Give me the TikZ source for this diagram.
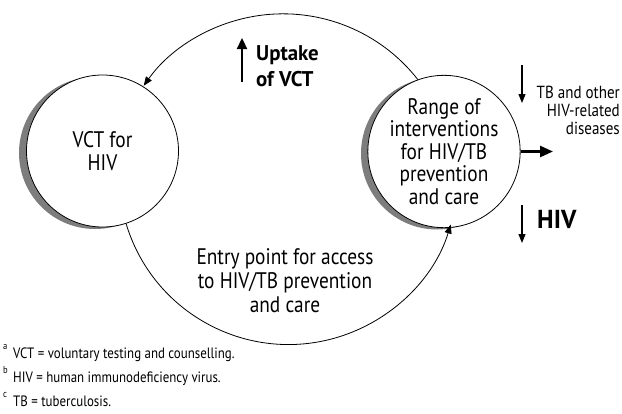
\documentclass[tikz,border=0pt]{standalone}
\usepackage{fontspec}
\setmainfont{PT Sans}[FakeStretch=0.86]
\newfontfamily\boldsans{PT Sans}[FakeStretch=0.98]
\usetikzlibrary{arrows.meta}
\definecolor{shadowgray}{RGB}{125,125,125}
\newcommand{\circfont}{\fontsize{22.5}{22.5}\selectfont}
\newcommand{\entryfont}{\fontsize{22.5}{24}\selectfont}
\newcommand{\smallfont}{\fontsize{17.5}{18}\selectfont}
\newcommand{\notefont}{\fontsize{15}{24}\selectfont}
\newcommand{\fnmark}[1]{\makebox[10pt][l]{\raisebox{9pt}{\fontsize{10}{10}\selectfont #1}}}
\begin{document}
\begin{tikzpicture}[x=1pt,y=-1pt,
  bigcirc/.style={circle,draw,fill=white,minimum size=152pt,inner sep=0pt,align=center,line width=0.8pt,font=\circfont},
  shadowcirc/.style={fill=shadowgray},
  arcline/.style={line width=0.8pt,-{Triangle[length=9pt,width=7pt]}},
  thickarrow/.style={line width=2.3pt,-{Triangle[length=11pt,width=10pt]}},
  thinarrow/.style={line width=1.2pt,-{Triangle[length=9pt,width=7pt]}},
  lbl/.style={inner sep=0pt},
  note/.style={lbl,anchor=base west,font=\notefont}]
\useasboundingbox (0,0) rectangle (622,413);
% shadows
\fill[shadowcirc] (95,153) circle[radius=76];
\fill[shadowcirc] (437,153.5) circle[radius=76];
% circles
\node[bigcirc] (L) at (102.5,151) {VCT for\\HIV};
\node[bigcirc] (R) at (444,151.5) {Range of\\interventions\\for HIV/TB\\prevention\\and care};
% arcs
\draw[arcline] (R.110) arc[start angle=-38, end angle=-144.6, radius=171];
\draw[arcline] (L.-72) arc[start angle=163.3, end angle=17, radius=169.6];
% labels
\node[lbl,align=center,font=\entryfont] (entry) at (285,281) {Entry point for access\\to HIV/TB prevention\\and care};
\node[lbl,align=left,anchor=west,font=\boldsans\bfseries\fontsize{21.3}{26.5}\selectfont] (uptake) at (256,66) {Uptake\\of VCT};
\node[lbl,align=right,anchor=east,font=\smallfont] (tb) at (620,110) {TB and other\\HIV-related\\diseases};
\node[lbl,anchor=base west,font=\boldsans\bfseries\fontsize{26}{26}\selectfont] (hiv) at (537,228) {HIV};
\node[note] (noteA) at (3,358) {\fnmark{a}VCT = voluntary testing and counselling.};
\node[note] (noteB) at (3,382) {\fnmark{b}HIV = human immunodeficiency virus.};
\node[note] (noteC) at (3,406) {\fnmark{c}TB = tuberculosis.};
% arrows
\coordinate (upA) at (242,82); \coordinate (upB) at (242,38);
\coordinate (tbA) at (522,65); \coordinate (tbB) at (522,103);
\coordinate (hvA) at (522,205); \coordinate (hvB) at (522,243);
\coordinate (outB) at (553,151.5);
\draw[thickarrow] (upA) -- (upB);
\draw[thinarrow] (tbA) -- (tbB);
\draw[thinarrow] (hvA) -- (hvB);
\draw[thickarrow,line width=2.6pt,-{Triangle[length=13pt,width=11pt]}] (R.east) -- (outB);
\end{tikzpicture}
\end{document}
